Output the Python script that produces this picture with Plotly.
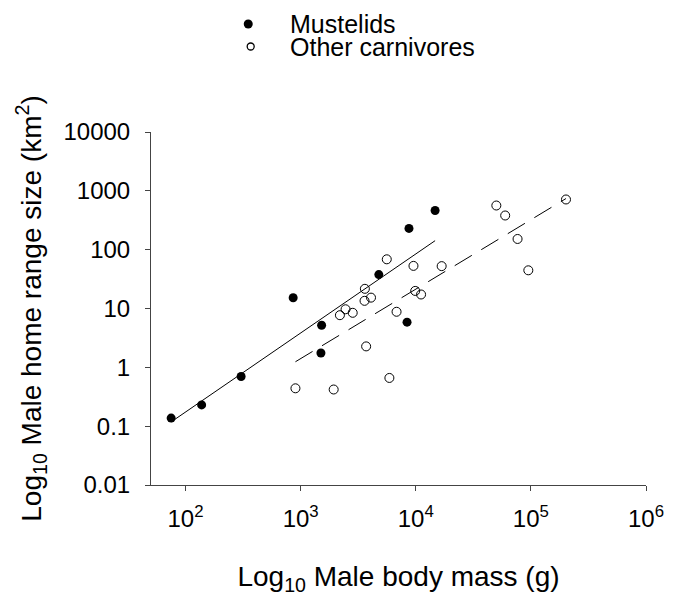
import numpy as np
import plotly.graph_objects as go

# ---- data ----
mustelid_mass = [75, 138, 304, 861, 1521, 1500, 4776, 8730, 14720, 8400]
mustelid_range = [0.137, 0.23, 0.70, 15.2, 5.2, 1.75, 37.7, 230, 463, 5.86]

other_mass = [901, 1936, 2193, 2455, 2833, 3613, 3589, 4085, 3706, 5600, 5900,
              6810, 9550, 9890, 11120, 16790, 50100, 59800, 76600, 95000, 201800]
other_range = [0.44, 0.42, 7.7, 9.7, 8.45, 21.6, 13.5, 15.3, 2.27, 68.6, 0.66,
               8.8, 53, 19.9, 17.3, 52.5, 563, 381, 152, 44.6, 713]

series_names = ["Mustelids", "Other carnivores"]
x_tick_vals = [1e2, 1e3, 1e4, 1e5, 1e6]
x_tick_text = ["10<sup>2</sup>", "10<sup>3</sup>", "10<sup>4</sup>", "10<sup>5</sup>", "10<sup>6</sup>"]
y_tick_vals = [0.01, 0.1, 1, 10, 100, 1000, 10000]
y_tick_text = ["0.01", "0.1", "1", "10", "100", "1000", "10000"]

FONT = "Liberation Sans, Arial, Helvetica, sans-serif"
W, H = 676, 598
ML, MR, MT, MB = 151, 21, 132, 113
PW, PH = W - ML - MR, H - MT - MB


def fit_line(xs, ys):
    lx, ly = np.log10(xs), np.log10(ys)
    b, a = np.polyfit(lx, ly, 1)
    xe = np.array([lx.min(), lx.max()])
    return 10 ** xe, 10 ** (a + b * xe)


fx1, fy1 = fit_line(mustelid_mass, mustelid_range)
fx2, fy2 = fit_line(other_mass, other_range)

fig = go.Figure()
fig.add_trace(go.Scatter(x=fx1, y=fy1, mode="lines",
                         line=dict(color="black", width=1), showlegend=False, hoverinfo="skip"))
fig.add_trace(go.Scatter(x=fx2, y=fy2, mode="lines",
                         line=dict(color="black", width=1, dash="20px,11px"),
                         showlegend=False, hoverinfo="skip"))
fig.add_trace(go.Scatter(x=mustelid_mass, y=mustelid_range, mode="markers", name=series_names[0],
                         marker=dict(symbol="circle", size=9, color="black",
                                     line=dict(width=0)), showlegend=False))
fig.add_trace(go.Scatter(x=other_mass, y=other_range, mode="markers", name=series_names[1],
                         marker=dict(symbol="circle-open", size=9, color="black",
                                     line=dict(width=1, color="black")), showlegend=False))


def px_to_paper(px, py):
    return (px - ML) / PW, (H - MB - py) / PH


# manual legend
legend_rows = [(250, 24, True, 9), (252.5, 46.5, False, 7)]
annotations = []
shapes = []
for name, (mx, my, filled, d) in zip(series_names, legend_rows):
    ax, ay = px_to_paper(mx, my)
    shapes.append(dict(type="circle", xref="paper", yref="paper",
                       xsizemode="pixel", ysizemode="pixel",
                       xanchor=ax, yanchor=ay,
                       x0=-d / 2, x1=d / 2, y0=-d / 2, y1=d / 2,
                       fillcolor="black" if filled else "white",
                       line=dict(color="black", width=0 if filled else 1.3)))
    tx, ty = px_to_paper(291, my)
    annotations.append(dict(text=name, xref="paper", yref="paper", x=tx, y=ty,
                            xanchor="left", yanchor="middle", showarrow=False,
                            height=22, valign="middle", borderpad=0,
                            font=dict(family=FONT, size=25, color="black")))

axis_common = dict(type="log", showline=True, linecolor="#444", linewidth=1,
                   ticks="outside", ticklen=5, tickwidth=1, tickcolor="#444",
                   showgrid=False, zeroline=False, mirror=False,
                   tickfont=dict(family=FONT, size=24, color="black"),
                   tickmode="array")

fig.update_layout(
    width=W, height=H,
    margin=dict(l=ML, r=MR, t=MT, b=MB, pad=0),
    paper_bgcolor="white", plot_bgcolor="white",
    showlegend=False,
    xaxis=dict(axis_common, range=[1.70, 6], tickvals=x_tick_vals, ticktext=x_tick_text,
               ticklabelstandoff=7,
               title=dict(text="Log<sub>10</sub> Male body mass (g)",
                          font=dict(family=FONT, size=28, color="black"), standoff=35)),
    yaxis=dict(axis_common, range=[-2, 4], tickvals=y_tick_vals, ticktext=y_tick_text,
               ticklabelstandoff=10,
               title=dict(text="Log<sub>10</sub> Male home range size (km<sup>2</sup>)",
                          font=dict(family=FONT, size=28, color="black"), standoff=13)),
    shapes=shapes,
    annotations=annotations,
)

fig.write_html("out.html")
